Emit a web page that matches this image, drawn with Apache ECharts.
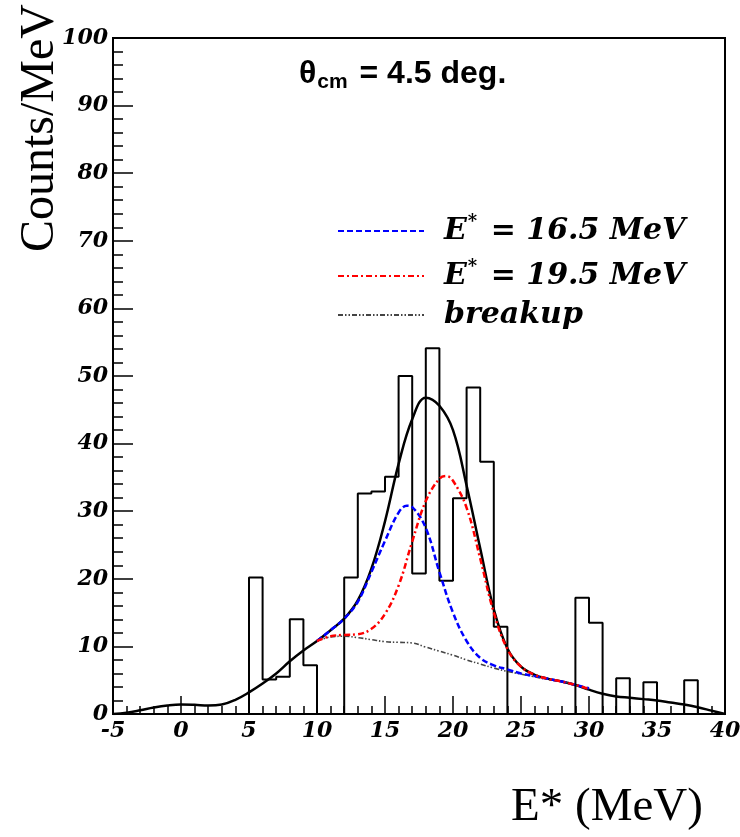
<!DOCTYPE html>
<html><head><meta charset="utf-8">
<script src="https://cdn.jsdelivr.net/npm/echarts@6/dist/echarts.min.js"></script>
<style>html,body{margin:0;padding:0;background:#fff}#c{width:740px;height:837px}</style>
</head><body><div id="c"></div>
<script>
// Histogram: lower bin edges (MeV), bin width 1 MeV, counts per MeV
const binLow = [-5,-4,-3,-2,-1,0,1,2,3,4,5,6,7,8,9,10,11,12,13,14,15,16,17,18,19,20,21,22,23,24,25,26,27,28,29,30,31,32,33,34,35,36,37,38,39];
const binWidth = 1;
const histCounts = [0,0,0,0,0,0,0,0,0,0,
  20.2,5.1,5.5,14.0,7.2,0,0,20.2,32.6,32.9,
  35.1,50.0,20.8,54.1,19.7,31.9,48.3,37.3,12.9,0,
  0,0,0,0,17.2,13.5,0,5.3,0,4.7,
  0,0,5.0,0,0];

// Total fit (black solid)
const totalE = [-5,-4,-3,-2,-1,0,1,2,3,4,5,6,7,8,9,10,11,12,13,14,15,16,17,18,19,20,21,22,23,24,25,26,27,28,29,30,31,32,33,34,35,36,37,38,39,40];
const totalV = [0,0.2,0.55,0.95,1.25,1.4,1.35,1.25,1.4,2.1,3.2,4.5,6.0,7.8,9.4,10.8,12.4,14.1,16.8,21.5,28.5,37.0,43.6,46.8,45.6,42.0,33.8,24.5,15.5,9.7,7.0,5.8,5.2,4.8,4.3,3.6,3.0,2.6,2.4,2.2,2.0,1.7,1.4,1.0,0.5,0];

// E* = 16.5 MeV component (+ breakup), blue dashed
const blueE = [10,11,12,13,14,15,16,16.6,17,18,19,20,21,22,23,24,25,26,27,28,29,30];
const blueV = [10.8,12.4,14.1,16.6,21.0,25.6,29.8,30.8,30.6,27.5,21.0,15.0,10.8,8.3,7.2,6.6,6.0,5.6,5.2,4.8,4.3,3.8];

// E* = 19.5 MeV component (+ breakup), red dash-dot
const redE = [10,11,12,13,14,15,16,17,18,19,19.5,20,21,22,23,24,25,26,27,28,29,30];
const redV = [10.8,11.5,11.7,11.8,12.6,14.8,19.0,25.5,31.5,34.8,35.2,34.5,30.5,23.0,15.0,9.6,7.0,5.8,5.2,4.8,4.3,3.7];

// breakup (black dash-dot-dot)
const brkE = [10,11,12,13,14,15,16,17,18,19,20,21,22,23,24,25,26,27,28,29,30];
const brkV = [10.8,11.4,11.5,11.3,11.0,10.7,10.6,10.5,9.9,9.3,8.7,8.0,7.4,6.8,6.3,5.9,5.5,5.1,4.8,4.3,3.8];

const xTickMin = -5, xTickMax = 40, xTickStep = 5;
const yTickMin = 0, yTickMax = 100, yTickStep = 10;

const serif = "'Liberation Serif', 'DejaVu Serif', serif";
const wideSerif = "'DejaVu Serif', 'Liberation Serif', serif";
const sans = "'Liberation Sans', 'DejaVu Sans', sans-serif";
const zip = (xs, ys) => xs.map((x, i) => [x, ys[i]]);

const histPts = [];
binLow.forEach((lo, i) => {
  histPts.push([lo, histCounts[i]]);
  histPts.push([lo + binWidth, histCounts[i]]);
});

const legendRich = {
  i: {fontFamily: wideSerif, fontStyle: 'italic', fontWeight: 'bold', fontSize: 30, lineHeight: 42, color: '#000'},
  sup: {fontFamily: wideSerif, fontStyle: 'italic', fontWeight: 'bold', fontSize: 18, lineHeight: 42, verticalAlign: 'top', color: '#000', padding: [3, 3, 0, 1]}
};
const legendText = {
  'E* = 16.5 MeV': '{i|E}{sup|*}{i| = 16.5 MeV}',
  'E* = 19.5 MeV': '{i|E}{sup|*}{i| = 19.5 MeV}',
  'breakup': '{i|breakup}'
};

const chart = echarts.init(document.getElementById('c'), null, {renderer: 'canvas'});
chart.setOption({
  animation: false,
  backgroundColor: '#fff',
  title: {
    text: '{t|θ}{s|cm}{t| = 4.5 deg.}',
    left: 299, top: 55, padding: 0,
    textStyle: {
      rich: {
        t: {fontFamily: sans, fontWeight: 'bold', fontSize: 32, lineHeight: 38, color: '#000'},
        s: {fontFamily: sans, fontWeight: 'bold', fontSize: 21, lineHeight: 38, verticalAlign: 'bottom', color: '#000', padding: [0, 3, 0, 1]}
      }
    }
  },
  legend: {
    data: ['E* = 16.5 MeV', 'E* = 19.5 MeV', 'breakup'],
    orient: 'vertical',
    left: 337, top: 210, padding: 0,
    itemWidth: 86, itemHeight: 14, itemGap: 9,
    itemStyle: {color: 'rgba(0,0,0,0)', borderWidth: 0, opacity: 0},
    formatter: n => legendText[n],
    textStyle: {rich: legendRich, padding: [0, 0, 0, 15]}
  },
  grid: {left: 113, right: 15, top: 38, bottom: 123, show: true, borderColor: '#000', borderWidth: 2,
         backgroundColor: 'transparent', containLabel: false, outerBoundsMode: 'none'},
  xAxis: {
    type: 'value', min: xTickMin, max: xTickMax, interval: xTickStep,
    axisLine: {show: true, onZero: false, lineStyle: {color: '#000', width: 2}},
    axisTick: {show: true, inside: true, length: 18, lineStyle: {color: '#000', width: 1.5}},
    minorTick: {show: true, splitNumber: 5, length: 8, lineStyle: {color: '#000', width: 1.5}},
    splitLine: {show: false},
    axisLabel: {fontFamily: wideSerif, fontStyle: 'italic', fontWeight: 'bold', fontSize: 22, color: '#000', margin: 6},
    name: 'E* (MeV)', nameLocation: 'middle', nameGap: 68, nameMoveOverlap: false,
    nameTextStyle: {fontFamily: serif, fontSize: 47, color: '#000', lineHeight: 52, padding: [0, 0, 0, 376]}
  },
  yAxis: {
    type: 'value', min: yTickMin, max: yTickMax, interval: yTickStep,
    axisLine: {show: true, onZero: false, lineStyle: {color: '#000', width: 2}},
    axisTick: {show: true, inside: true, length: 20, lineStyle: {color: '#000', width: 1.5}},
    minorTick: {show: true, splitNumber: 5, length: 10, lineStyle: {color: '#000', width: 1.5}},
    splitLine: {show: false},
    axisLabel: {fontFamily: wideSerif, fontStyle: 'italic', fontWeight: 'bold', fontSize: 22, color: '#000', margin: 5},
    name: 'Counts/MeV', nameLocation: 'middle', nameGap: 47, nameRotate: 90, nameMoveOverlap: false,
    nameTextStyle: {fontFamily: serif, fontSize: 48, color: '#000', lineHeight: 52, padding: [0, 0, 0, 496]}
  },
  series: [
    {name: 'histogram', type: 'line', data: histPts, symbol: 'none', silent: true,
     lineStyle: {color: '#000', width: 2}, itemStyle: {color: '#000'}, z: 2},
    {name: 'total', type: 'line', data: zip(totalE, totalV), symbol: 'none', smooth: 0.4, silent: true,
     lineStyle: {color: '#000', width: 2.5}, itemStyle: {color: '#000'}, z: 3},
    {name: 'breakup', type: 'line', data: zip(brkE, brkV), symbol: 'none', smooth: 0.4, silent: true,
     lineStyle: {color: '#444', width: 1.6, type: [5, 2, 1.5, 2, 1.5, 2]}, itemStyle: {color: '#444'}, z: 4},
    {name: 'E* = 16.5 MeV', type: 'line', data: zip(blueE, blueV), symbol: 'none', smooth: 0.4, silent: true,
     lineStyle: {color: '#0000ff', width: 2.5, type: [6, 3]}, itemStyle: {color: '#0000ff'}, z: 5},
    {name: 'E* = 19.5 MeV', type: 'line', data: zip(redE, redV), symbol: 'none', smooth: 0.4, silent: true,
     lineStyle: {color: '#ff0000', width: 2.5, type: [6, 3, 2, 3]}, itemStyle: {color: '#ff0000'}, z: 6}
  ]
});
</script></body></html>
